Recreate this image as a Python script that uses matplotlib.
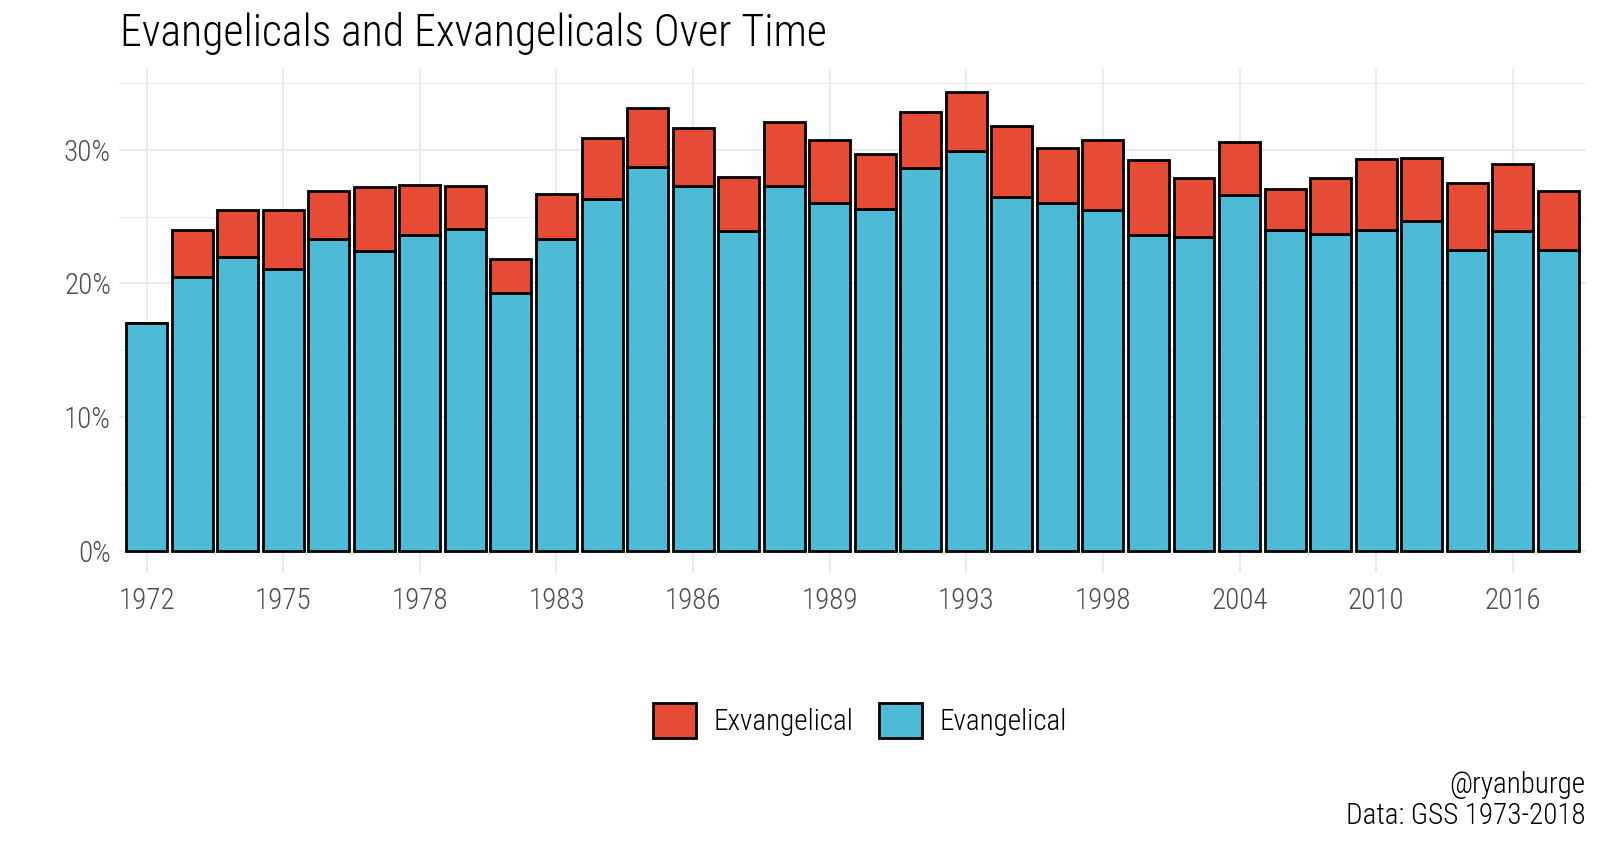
import numpy as np
import matplotlib.pyplot as plt
from matplotlib.ticker import MultipleLocator, FuncFormatter
from matplotlib.patches import Patch

years = ['1972', '1973', '1974', '1975', '1976', '1977', '1978', '1980',
         '1982', '1983', '1984', '1985', '1986', '1987', '1988', '1989',
         '1990', '1991', '1993', '1994', '1996', '1998', '2000', '2002',
         '2004', '2006', '2008', '2010', '2012', '2014', '2016', '2018']

evangelical = [17.0, 20.5, 22.0, 21.1, 23.3, 22.4, 23.6, 24.1,
               19.3, 23.3, 26.3, 28.7, 27.3, 23.9, 27.3, 26.0,
               25.6, 28.6, 29.9, 26.5, 26.0, 25.5, 23.6, 23.5,
               26.6, 24.0, 23.7, 24.0, 24.7, 22.5, 23.9, 22.5]

exvangelical = [0.0, 3.5, 3.5, 4.4, 3.6, 4.8, 3.8, 3.2,
                2.5, 3.4, 4.6, 4.4, 4.3, 4.1, 4.8, 4.7,
                4.1, 4.2, 4.4, 5.3, 4.1, 5.2, 5.6, 4.4,
                4.0, 3.1, 4.2, 5.3, 4.7, 5.0, 5.0, 4.4]

label_years = ['1972', '1975', '1978', '1983', '1986', '1989',
               '1993', '1998', '2004', '2010', '2016']

plt.rcParams['font.family'] = ['Roboto Condensed', 'Roboto', 'DejaVu Sans']
plt.rcParams['font.weight'] = 'light'

c_ev = '#4DBBD5'
c_ex = '#E64B35'

fig = plt.figure(figsize=(16, 8.47), dpi=100)
ax = fig.add_axes([0.0746, 0.323, 0.9164, 0.595])

x = np.arange(len(years))
ev = np.array(evangelical)
ex = np.array(exvangelical)

ax.bar(x, ev, width=0.9, color=c_ev, edgecolor='black', linewidth=2.0, zorder=3)
ax.bar(x, ex, width=0.9, bottom=ev, color=c_ex, edgecolor='black', linewidth=2.0, zorder=3)

total = ev + ex
ax.set_ylim(-total.max() * 0.05, total.max() * 1.05)
ax.set_xlim(-0.6, len(years) - 0.4)

ax.yaxis.set_major_locator(MultipleLocator(10))
ax.yaxis.set_minor_locator(MultipleLocator(5))
ax.yaxis.set_major_formatter(FuncFormatter(lambda v, p: f'{v:.0f}%'))

tick_pos = [years.index(y) for y in label_years]
ax.set_xticks(tick_pos)
ax.set_xticklabels(label_years)

ax.grid(True, which='major', color='#EBEBEB', linewidth=1.5, zorder=0)
ax.grid(True, which='minor', axis='y', color='#EBEBEB', linewidth=0.8, zorder=0)
ax.tick_params(which='both', length=0, labelsize=21, labelcolor='#4D4D4D')
ax.tick_params(axis='x', pad=9.5)
ax.tick_params(axis='y', pad=6)
for s in ax.spines.values():
    s.set_visible(False)

fig.text(0.075, 0.961, 'Evangelicals and Exvangelicals Over Time',
         fontsize=31.5, ha='left', va='center')

handles = [Patch(facecolor=c_ex, edgecolor='black', linewidth=2.0, label='Exvangelical'),
           Patch(facecolor=c_ev, edgecolor='black', linewidth=2.0, label='Evangelical')]
fig.legend(handles=handles, loc='center', bbox_to_anchor=(0.5375, 0.149), ncol=2,
           frameon=False, fontsize=21, handlelength=1.45, handleheight=1.45,
           handletextpad=0.6, columnspacing=0.9)

fig.text(0.991, 0.020, '@ryanburge\nData: GSS 1973-2018', fontsize=21,
         ha='right', va='bottom', linespacing=1.15)

fig.savefig('out.png', dpi=100)
